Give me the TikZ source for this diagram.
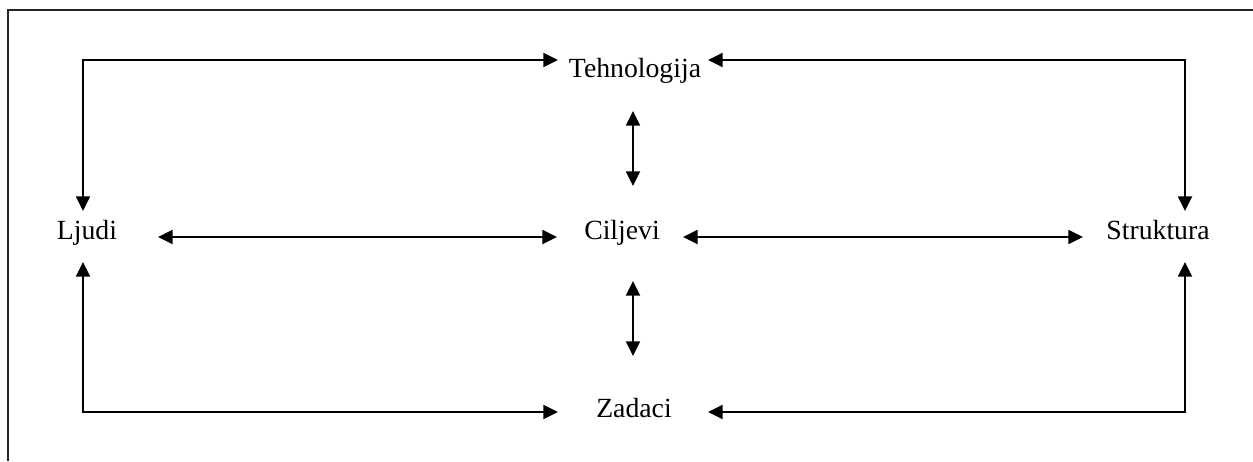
\documentclass[tikz,border=0pt]{standalone}
\usepackage{fontspec}
\setmainfont{Liberation Serif}
\usetikzlibrary{arrows.meta}
\begin{document}
\begin{tikzpicture}[x=0.75pt,y=-0.75pt,
  lbl/.style={anchor=base,inner sep=0pt,font=\fontsize{20.8pt}{24pt}\selectfont},
  conn/.style={line width=1.7pt,{Triangle[length=11pt,width=10.5pt]}-{Triangle[length=11pt,width=10.5pt]}},
  frameline/.style={line width=1pt,draw=black!85}]
\useasboundingbox (0,0) rectangle (1253,461);
\draw[frameline] (8,461) -- (8,10) -- (1253,10);
% labels
\node[lbl] (teh) at (635,77) {Tehnologija};
\node[lbl] (cil) at (622,239) {Ciljevi};
\node[lbl] (lju) at (87,239) {Ljudi};
\node[lbl] (str) at (1158,239) {Struktura};
\node[lbl] (zad) at (634,417) {Zadaci};
% connector end points
\coordinate (ljT) at (83,211);
\coordinate (ljB) at (83,262);
\coordinate (ljE) at (158,237);
\coordinate (stT) at (1185,211);
\coordinate (stB) at (1185,262);
\coordinate (stW) at (1083,237);
\coordinate (teW) at (558,60);
\coordinate (teE) at (708,60);
\coordinate (teS) at (633,111);
\coordinate (ciN) at (633,186);
\coordinate (ciW) at (557,237);
\coordinate (ciE) at (683,237);
\coordinate (ciS) at (633,281);
\coordinate (zaN) at (633,356);
\coordinate (zaW) at (558,412);
\coordinate (zaE) at (708,412);
% connectors
\draw[conn] (ljT) -- (ljT |- teW) -- (teW);
\draw[conn] (teE) -- (stT |- teE) -- (stT);
\draw[conn] (ljB) -- (ljB |- zaW) -- (zaW);
\draw[conn] (zaE) -- (stB |- zaE) -- (stB);
\draw[conn] (ljE) -- (ciW);
\draw[conn] (ciE) -- (stW);
\draw[conn] (teS) -- (ciN);
\draw[conn] (ciS) -- (zaN);
\end{tikzpicture}
\end{document}
